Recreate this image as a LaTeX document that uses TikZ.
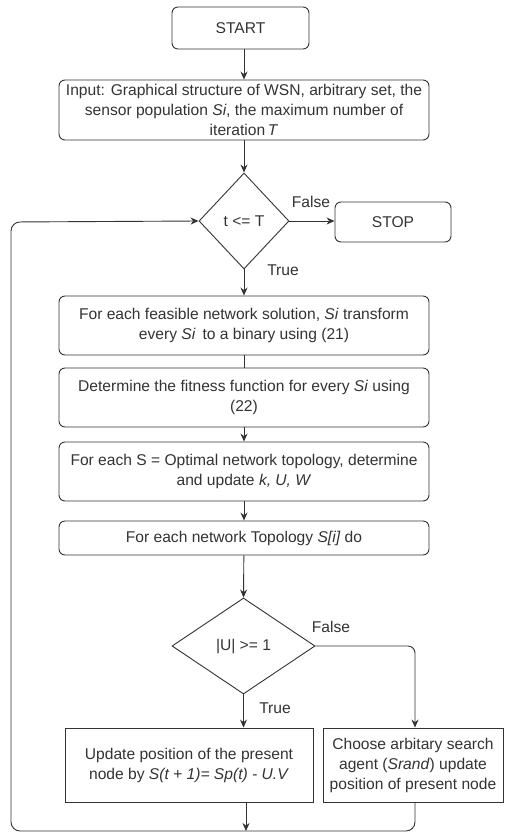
\documentclass[tikz,border=0pt]{standalone}
\usepackage{fontspec}
\setmainfont{Liberation Sans}
\usetikzlibrary{shapes.geometric,arrows.meta}
\definecolor{ink}{HTML}{333333}
\begin{document}
\begin{tikzpicture}[x=1pt,y=-1pt,
  every node/.style={text=ink,font=\fontsize{15.6}{20}\selectfont},
  proc/.style={draw=ink,line width=0.9pt,rounded corners=6pt,align=center,inner sep=0pt},
  plain/.style={draw=ink,line width=0.9pt,align=center,inner sep=0pt},
  decide/.style={draw=ink,line width=0.9pt,diamond,inner sep=0pt},
  flow/.style={draw=ink,line width=0.9pt,-{Stealth[length=8pt,width=7pt]}},
  link/.style={draw=ink,line width=0.9pt},
  lbl/.style={inner sep=0pt}]
\useasboundingbox (0,0) rectangle (504,836);

\node[proc,minimum width=137pt,minimum height=42pt] (start) at (240.5,28) {START};
\node[proc,minimum width=370pt,minimum height=60pt] (input) at (244,110)
  {Input: Graphical structure of WSN, arbitrary set, the\\
   sensor population \textit{Si}, the maximum number of\\
   iteration\,\textit{T}};
\node[decide,minimum width=90pt,minimum height=96pt] (d1) at (244,221) {t <= T};
\node[proc,minimum width=116pt,minimum height=40pt] (stop) at (393,222) {STOP};
\node[proc,minimum width=370pt,minimum height=59pt] (b3) at (244,325.5)
  {For each feasible network solution, \textit{Si} transform\\
   every \textit{Si}\, to a binary using (21)};
\node[proc,minimum width=370pt,minimum height=59pt] (b4) at (244,397.5)
  {Determine the fitness function for every \textit{Si} using\\ (22)};
\node[proc,minimum width=370pt,minimum height=59pt] (b5) at (244,471.5)
  {For each S = Optimal network topology, determine\\ and update \textit{k, U, W}};
\node[proc,minimum width=370pt,minimum height=34pt] (b6) at (244,538)
  {For each network Topology \textit{S[i]} do};
\node[decide,minimum width=143pt,minimum height=96pt] (d2) at (243.5,646) {|U| >= 1};
\node[plain,minimum width=248pt,minimum height=74pt] (b7) at (189,765)
  {Update position of the present\\ node by \textit{S(t + 1)= Sp(t) - U.V}};
\node[plain,minimum width=180pt,minimum height=74pt] (b8) at (413,765)
  {Choose arbitary search\\ agent (\textit{Srand}) update\\ position of present node};

\node[lbl] (f1) at (311,202) {False};
\node[lbl] (t1) at (283,270) {True};
\node[lbl] (f2) at (331,627) {False};
\node[lbl] (t2) at (275,708) {True};

\coordinate (loopR) at (415,831);
\coordinate (loopL) at (11,831);
\coordinate (loopT) at (11,222);

\path[flow] (start.south -| input.north) -- (input.north);
\path[flow] (input) -- (d1.north);
\path[flow] (d1.east) -- (stop.west |- d1.east);
\path[flow] (d1) -- (b3.north);
\path[link] (b3) -- (b4);
\path[flow] (b4) -- (b5);
\path[flow] (b5) -- (b6);
\path[flow] (b6) -- (d2.north);
\path[flow] (d2.south) -- (d2.south |- b7.north);
\path[flow,rounded corners=7pt] (d2.east) -| (b8.north -| loopR);
\path[flow,rounded corners=9pt] (b8.south -| loopR) -- (loopR) -- (loopL) -- (loopT) -- (d1.west);
\path[flow] (b7.south -| 246,0) -- (246,831);
\end{tikzpicture}
\end{document}
